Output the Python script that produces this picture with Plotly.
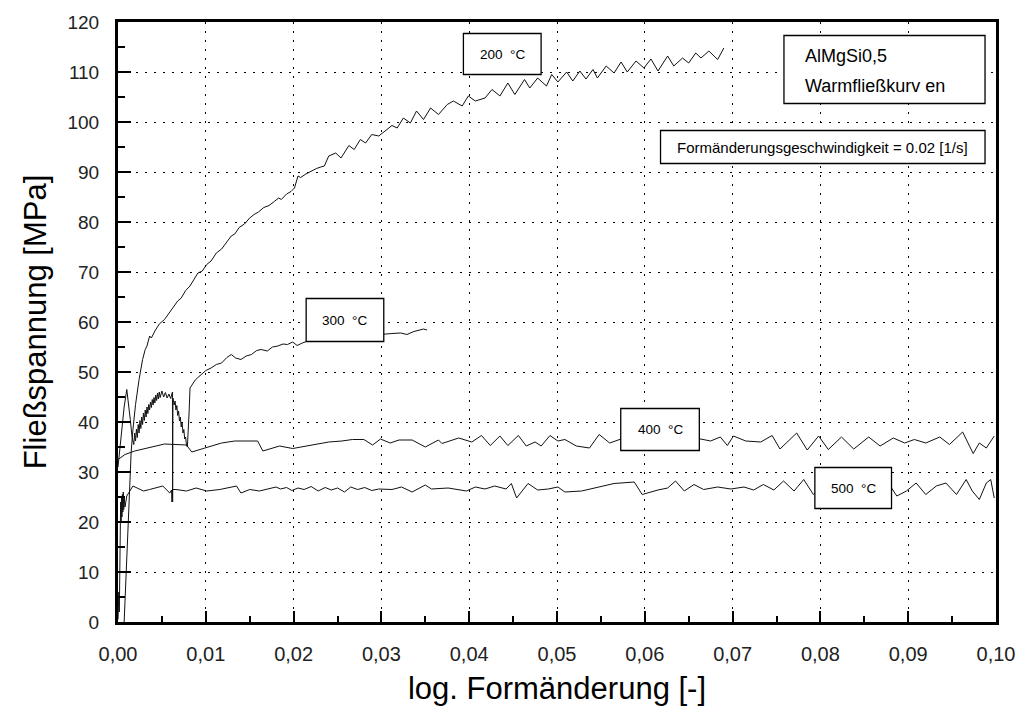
import plotly.graph_objects as go

# ---------------- data ----------------
curve_200 = [
    (0.0007, 0.0), (0.0009, 9.0), (0.0011, 19.0), (0.0013, 28.0), (0.0015, 34.0),
    (0.0017, 38.5), (0.0020, 43.5), (0.0024, 48.5), (0.0028, 52.5), (0.0031, 54.5),
    (0.0033, 55.2), (0.0036, 57.2), (0.0038, 56.8), (0.0042, 58.2), (0.0047, 59.6),
    (0.0053, 60.5), (0.0058, 61.8), (0.0063, 62.9), (0.0068, 64.2), (0.0072, 64.8),
    (0.0077, 66.3), (0.0082, 67.2), (0.0087, 68.6), (0.0091, 69.8), (0.0096, 70.2),
    (0.0101, 71.5), (0.0106, 72.2), (0.0112, 73.8), (0.0118, 74.6), (0.0124, 75.9),
    (0.0129, 77.2), (0.0133, 77.6), (0.0138, 78.9), (0.0144, 79.6), (0.0150, 80.8),
    (0.0155, 81.5), (0.0160, 82.0), (0.0166, 82.9), (0.0172, 83.3), (0.0178, 84.1),
    (0.0183, 84.8), (0.0186, 84.5), (0.0192, 85.6), (0.0197, 86.1), (0.0201, 86.8),
    (0.0205, 89.2), (0.0208, 88.9), (0.0214, 89.6), (0.0220, 90.2), (0.0226, 90.7),
    (0.0231, 91.0), (0.0235, 91.2), (0.0240, 93.2), (0.0248, 93.8), (0.0254, 92.8),
    (0.0263, 95.3), (0.0269, 94.5), (0.0276, 96.5), (0.0282, 95.8), (0.0289, 97.5),
    (0.0297, 97.2), (0.0306, 98.5), (0.0312, 99.3), (0.0318, 98.8), (0.0325, 100.8),
    (0.0333, 99.8), (0.0340, 102.2), (0.0348, 100.5), (0.0356, 102.8), (0.0365, 101.5),
    (0.0375, 103.5), (0.0382, 104.2), (0.0392, 103.2), (0.0399, 105.2), (0.0407, 104.2),
    (0.0418, 104.8), (0.0426, 106.5), (0.0435, 105.2), (0.0444, 107.8), (0.0452, 105.5),
    (0.0463, 108.5), (0.0469, 106.8), (0.0478, 108.8), (0.0488, 107.2), (0.0494, 109.5),
    (0.0501, 108.0), (0.0511, 110.0), (0.0518, 108.2), (0.0526, 110.2), (0.0533, 108.6),
    (0.0541, 110.5), (0.0546, 108.8), (0.0556, 111.2), (0.0565, 109.8), (0.0573, 112.0),
    (0.0580, 110.0), (0.0590, 112.2), (0.0599, 110.8), (0.0607, 112.6), (0.0615, 110.2),
    (0.0626, 113.2), (0.0633, 111.2), (0.0643, 112.8), (0.0650, 111.8), (0.0658, 113.8),
    (0.0664, 112.8), (0.0673, 114.2), (0.0683, 112.5), (0.0690, 114.8),
]

curve_300 = [
    (0.0000, 31.0), (0.0004, 38.0), (0.0007, 43.0), (0.0010, 46.5), (0.0012, 44.0),
    (0.0014, 40.5), (0.0016, 37.0), (0.0018, 35.5), (0.0019, 37.8), (0.0020, 36.2),
    (0.0021, 38.6), (0.0022, 36.9), (0.0023, 39.5), (0.0024, 37.8), (0.0025, 40.3),
    (0.0026, 38.7), (0.0027, 41.0), (0.0028, 39.5), (0.0029, 41.8), (0.0030, 40.3),
    (0.0031, 42.4), (0.0032, 41.0), (0.0033, 43.0), (0.0034, 41.7), (0.0035, 43.5),
    (0.0036, 42.4), (0.0037, 44.0), (0.0038, 42.9), (0.0039, 44.5), (0.0040, 43.4),
    (0.0041, 44.9), (0.0042, 43.8), (0.0043, 45.4), (0.0044, 44.3), (0.0045, 45.8),
    (0.0046, 44.6), (0.0047, 46.0), (0.0048, 44.9), (0.0050, 46.2), (0.0052, 45.0),
    (0.0054, 45.9), (0.0056, 44.8), (0.0058, 45.6), (0.0060, 44.7), (0.0062, 46.0),
    (0.00622, 24.0), (0.00626, 44.8), (0.0064, 43.4), (0.0065, 44.2), (0.0066, 42.4),
    (0.0067, 43.3), (0.0068, 41.3), (0.0069, 42.2), (0.0070, 40.2), (0.0071, 41.0),
    (0.0072, 39.0), (0.0073, 39.8), (0.0074, 37.8), (0.0075, 38.5), (0.0076, 36.6),
    (0.0077, 37.0), (0.0078, 35.4), (0.0079, 35.0), (0.0081, 42.0), (0.0082, 46.8),
    (0.0085, 47.6), (0.0088, 48.4), (0.0091, 48.9), (0.0094, 49.4), (0.0097, 49.9),
    (0.0100, 50.3), (0.0106, 50.8), (0.0112, 51.5), (0.0118, 51.8), (0.0124, 52.9),
    (0.0129, 53.5), (0.0134, 52.8), (0.0140, 52.5), (0.0146, 53.2), (0.0152, 53.5),
    (0.0158, 54.3), (0.0163, 54.5), (0.0170, 54.2), (0.0176, 55.0), (0.0182, 55.2),
    (0.0188, 55.6), (0.0193, 55.5), (0.0199, 56.0), (0.0204, 55.3), (0.0210, 55.8),
    (0.0216, 56.2), (0.0225, 56.6), (0.0235, 56.8), (0.0245, 57.0), (0.0255, 57.2),
    (0.0265, 57.1), (0.0275, 57.4), (0.0285, 57.3), (0.0295, 57.5), (0.0303, 57.6),
    (0.0312, 57.7), (0.0322, 57.8), (0.0329, 57.5), (0.0337, 58.1), (0.0344, 58.5),
    (0.0348, 58.6), (0.0352, 58.4),
]

curve_400 = [
    (0.0000, 32.5), (0.0008, 33.5), (0.0019, 34.2), (0.0034, 34.8), (0.0053, 35.6),
    (0.0078, 35.4), (0.0084, 34.0), (0.0099, 34.8), (0.0118, 35.8), (0.0133, 36.2),
    (0.0159, 36.2), (0.0165, 34.2), (0.0184, 35.2), (0.0199, 34.7), (0.0214, 35.2),
    (0.0240, 36.0), (0.0255, 36.2), (0.0267, 36.5), (0.0280, 36.5), (0.0290, 35.4),
    (0.0299, 36.6), (0.0310, 35.8), (0.0320, 36.4), (0.0335, 36.4), (0.0350, 35.0),
    (0.0365, 36.4), (0.0369, 35.7), (0.0388, 36.8), (0.0403, 36.0), (0.0414, 37.3),
    (0.0424, 35.3), (0.0435, 37.2), (0.0444, 35.3), (0.0456, 37.3), (0.0465, 35.2),
    (0.0475, 36.0), (0.0482, 35.2), (0.0492, 37.3), (0.0501, 36.2), (0.0509, 36.5),
    (0.0522, 35.2), (0.0537, 34.8), (0.0548, 37.5), (0.0560, 35.8), (0.0573, 36.6),
    (0.0585, 35.6), (0.0598, 37.0), (0.0612, 35.5), (0.0626, 36.9), (0.0640, 35.7),
    (0.0652, 37.0), (0.0662, 36.6), (0.0675, 36.2), (0.0686, 37.0), (0.0694, 35.3),
    (0.0701, 37.2), (0.0715, 36.2), (0.0732, 36.0), (0.0745, 37.3), (0.0754, 34.6),
    (0.0773, 37.8), (0.0785, 34.4), (0.0798, 37.2), (0.0809, 34.5), (0.0824, 37.0),
    (0.0838, 34.6), (0.0855, 37.0), (0.0868, 35.2), (0.0883, 36.8), (0.0896, 35.8),
    (0.0907, 36.5), (0.0920, 35.8), (0.0936, 37.0), (0.0947, 35.5), (0.0962, 38.0),
    (0.0974, 33.7), (0.0981, 35.8), (0.0989, 34.8), (0.0998, 37.2),
]

curve_500 = [
    (0.0000, 0.5), (0.0001, 6.0), (0.00015, 2.0), (0.0002, 14.0), (0.00025, 19.0),
    (0.0003, 24.0), (0.00035, 20.0), (0.0004, 25.0), (0.00045, 21.0), (0.0005, 25.5),
    (0.00055, 22.0), (0.0006, 26.0), (0.00065, 22.5), (0.0007, 25.0), (0.0008, 23.0),
    (0.0010, 25.2), (0.0017, 27.2), (0.0029, 26.2), (0.0036, 26.5), (0.0051, 27.2),
    (0.0059, 25.8), (0.0061, 26.4), (0.00615, 24.0), (0.0062, 26.5), (0.0066, 26.5),
    (0.0078, 26.2), (0.0089, 26.8), (0.0101, 26.2), (0.0116, 26.5), (0.0135, 27.2),
    (0.0140, 25.8), (0.0150, 26.5), (0.0161, 26.2), (0.0180, 27.0), (0.0185, 26.6),
    (0.0192, 26.9), (0.0198, 26.3), (0.0205, 26.8), (0.0212, 26.5), (0.0220, 27.1),
    (0.0228, 26.2), (0.0236, 26.9), (0.0243, 26.4), (0.0250, 26.8), (0.0258, 26.0),
    (0.0265, 27.0), (0.0273, 26.5), (0.0281, 26.9), (0.0289, 26.3), (0.0297, 26.6),
    (0.0312, 26.5), (0.0323, 27.0), (0.0335, 26.0), (0.0350, 27.4), (0.0357, 26.6),
    (0.0376, 26.8), (0.0397, 26.2), (0.0407, 27.0), (0.0418, 26.6), (0.0429, 27.2),
    (0.0442, 26.6), (0.0448, 27.7), (0.0454, 24.8), (0.0467, 27.7), (0.0478, 26.4),
    (0.0490, 26.6), (0.0501, 27.0), (0.0509, 26.0), (0.0528, 26.2), (0.0546, 27.0),
    (0.0565, 27.7), (0.0588, 28.0), (0.0597, 25.5), (0.0615, 26.4), (0.0626, 26.8),
    (0.0635, 28.2), (0.0645, 26.2), (0.0656, 27.5), (0.0667, 26.5), (0.0683, 27.0),
    (0.0698, 26.6), (0.0713, 27.0), (0.0724, 26.4), (0.0735, 27.5), (0.0747, 26.4),
    (0.0758, 28.2), (0.0770, 26.2), (0.0781, 28.5), (0.0792, 25.5), (0.0805, 27.8),
    (0.0818, 25.6), (0.0832, 28.0), (0.0845, 25.5), (0.0858, 27.9), (0.0870, 25.6),
    (0.0881, 26.8), (0.0887, 25.2), (0.0898, 26.2), (0.0909, 27.8), (0.0920, 25.5),
    (0.0932, 27.2), (0.0943, 27.8), (0.0955, 25.5), (0.0966, 28.5), (0.0973, 26.2),
    (0.0981, 24.5), (0.0989, 27.8), (0.0994, 28.5), (0.0998, 24.8),
]

x_ticks = [0.00, 0.01, 0.02, 0.03, 0.04, 0.05, 0.06, 0.07, 0.08, 0.09, 0.10]
x_tick_labels = ["0,00", "0,01", "0,02", "0,03", "0,04", "0,05",
                 "0,06", "0,07", "0,08", "0,09", "0,10"]
y_ticks = [0, 10, 20, 30, 40, 50, 60, 70, 80, 90, 100, 110, 120]

curve_labels = ["200 °C", "300 °C", "400 °C", "500 °C"]
title_lines = ["AlMgSi0,5", "Warmfließkurv en"]
rate_text = "Formänderungsgeschwindigkeit = 0.02 [1/s]"

# ---------------- figure ----------------
fig = go.Figure()
for pts in (curve_200, curve_300, curve_400, curve_500):
    fig.add_trace(go.Scatter(
        x=[p[0] for p in pts], y=[p[1] for p in pts], mode="lines",
        line=dict(color="#111111", width=1), showlegend=False, hoverinfo="skip"))

FONT = "Liberation Sans, Arial, sans-serif"

# label boxes: (x0, x1, y0, y1) in data units, text
label_boxes = [
    (0.03934, 0.04819, 109.5, 117.7, curve_labels[0]),
    (0.02143, 0.03027, 56.1, 64.7, curve_labels[1]),
    (0.05726, 0.06621, 34.3, 42.7, curve_labels[2]),
    (0.07937, 0.08810, 22.7, 30.9, curve_labels[3]),
]
shapes = []
annotations = []
for x0, x1, y0, y1, txt in label_boxes:
    shapes.append(dict(type="rect", xref="x", yref="y", x0=x0, x1=x1, y0=y0, y1=y1,
                       fillcolor="white", line=dict(color="black", width=1.3), layer="above"))
    annotations.append(dict(x=(x0 + x1) / 2, y=(y0 + y1) / 2, xref="x", yref="y",
                            text=txt.replace(" ", "&nbsp;&nbsp;"), showarrow=False,
                            font=dict(family=FONT, size=13.5, color="black")))

# rate box
shapes.append(dict(type="rect", xref="x", yref="y", x0=0.06179, x1=0.09875, y0=91.7, y1=98.3,
                   fillcolor="white", line=dict(color="black", width=1.3), layer="above"))
annotations.append(dict(x=(0.06179 + 0.09875) / 2, y=95.0, xref="x", yref="y",
                        text=rate_text, showarrow=False,
                        font=dict(family=FONT, size=15, color="black")))
# title box
shapes.append(dict(type="rect", xref="x", yref="y", x0=0.07585, x1=0.09875, y0=103.7, y1=117.3,
                   fillcolor="white", line=dict(color="black", width=1.3), layer="above"))
annotations.append(dict(x=0.07806, y=113.2, xref="x", yref="y", xanchor="left",
                        text=title_lines[0], showarrow=False,
                        font=dict(family=FONT, size=18, color="black")))
annotations.append(dict(x=0.07806, y=107.2, xref="x", yref="y", xanchor="left",
                        text=title_lines[1], showarrow=False,
                        font=dict(family=FONT, size=18, color="black")))

axis_common = dict(
    showline=True, linecolor="black", linewidth=3, mirror=True,
    showgrid=True, gridcolor="black", gridwidth=1, griddash="2px,7px",
    ticks="inside", tickcolor="black", tickwidth=2,
    zeroline=False,
)

fig.update_layout(
    width=1027, height=715,
    margin=dict(l=118, r=27, t=22, b=93),
    paper_bgcolor="white", plot_bgcolor="white",
    shapes=shapes, annotations=annotations,
    xaxis=dict(axis_common, range=[0, 0.1], tickvals=x_ticks, ticktext=x_tick_labels,
               ticklen=11, ticklabelstandoff=12,
               tickfont=dict(family=FONT, size=20, color="#222"),
               minor=dict(ticks="inside", dtick=0.005, ticklen=6, tickwidth=2, tickcolor="black",
                          showgrid=False),
               title=dict(text="log. Formänderung [-]", standoff=14,
                          font=dict(family=FONT, size=31, color="black"))),
    yaxis=dict(axis_common, range=[0, 120], tickvals=y_ticks,
               ticklen=13, ticklabelstandoff=12,
               tickfont=dict(family=FONT, size=19, color="#222"),
               minor=dict(ticks="inside", dtick=5, ticklen=7, tickwidth=2, tickcolor="black",
                          showgrid=False),
               title=dict(text="Fließspannung [MPa]", standoff=12,
                          font=dict(family=FONT, size=31, color="black"))),
)

fig.write_html("out.html")
